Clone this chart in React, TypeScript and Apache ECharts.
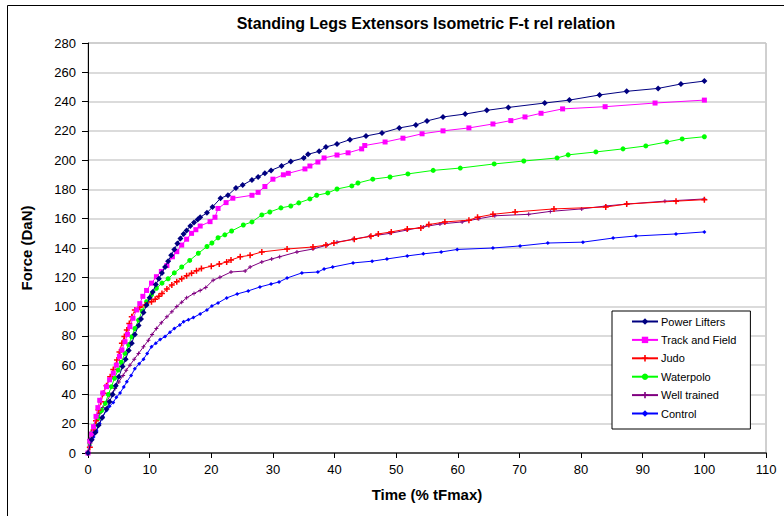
import React, { useEffect, useRef } from "react";
import * as echarts from "echarts";

const chartTitle = "Standing Legs Extensors Isometric F-t rel relation";
const xAxisTitle = "Time (% tFmax)";
const yAxisTitle = "Force (DaN)";
const seriesNames = ["Power Lifters", "Track and Field", "Judo", "Waterpolo", "Well trained", "Control"];
const seriesColors = ["#000080", "#FF00FF", "#FF0000", "#00FF00", "#800080", "#0000FF"];

const powerLifters = [
  [0, 0], [0.6, 9], [1.2, 14], [1.7, 19], [2.3, 24], [3, 30], [3.5, 35], [4, 40], [4.5, 46], [5, 52],
  [5.6, 59], [6.1, 64], [6.6, 70], [7.1, 75], [7.6, 81], [8.2, 87], [8.6, 91.5], [9, 96], [9.5, 101],
  [10, 106], [10.5, 110], [11, 115], [11.5, 119], [12, 123], [12.5, 127], [13, 131], [13.5, 135],
  [14, 139], [14.5, 143], [15, 146.5], [15.5, 149.5], [16, 152], [16.6, 155], [17.2, 157.5],
  [17.8, 159.5], [18.2, 161], [19.3, 164], [20.2, 168], [21.5, 174], [22.7, 176], [24, 181],
  [25.1, 183], [26.6, 186.5], [27.6, 188.5], [28.7, 191], [29.7, 193], [31.4, 196], [32.9, 199],
  [35, 201.5], [35.7, 204], [37.5, 206], [38.6, 209], [40.4, 211], [42.5, 214], [45.1, 216.5],
  [47.7, 218.6], [50.5, 222], [53.2, 224], [55, 226.8], [57.6, 229.5], [61.2, 231.5], [64.7, 234],
  [68.2, 236], [74.1, 239], [78.1, 241], [83, 244.5], [87.4, 247], [92.5, 249], [96.2, 252], [100, 254]
];

const trackAndField = [
  [0, 0], [0.3, 8], [0.6, 13], [0.9, 18], [1.3, 25], [1.6, 31], [1.9, 36], [2.4, 41], [3, 45.3],
  [3.5, 50], [4.1, 54.5], [4.6, 60], [5.1, 66], [5.5, 70.4], [6, 76], [6.4, 81], [6.8, 86.3], [7.3, 92],
  [7.9, 97.7], [8.4, 102], [8.9, 107], [9.5, 111], [10.3, 116], [11.1, 120.4], [11.9, 124], [12.8, 128],
  [13.7, 134], [14.4, 137.5], [15.2, 142], [16, 146], [16.8, 150], [17.5, 152.5], [18.2, 155],
  [19.8, 158], [20.6, 161], [21.1, 167], [22.4, 171], [23.5, 174], [26.6, 176], [27.6, 178],
  [28.7, 182], [30, 187], [31.7, 190], [32.5, 191], [35.2, 194], [36, 196], [37.3, 198.7],
  [38.3, 201.5], [40.4, 203.5], [42.2, 205], [44.4, 207.7], [44.9, 210], [48.2, 212.4], [51.1, 215],
  [54.2, 218], [57.6, 220], [61.8, 222], [65.7, 224.7], [68.6, 227], [70.9, 229.5], [73.5, 232],
  [77, 235], [83.9, 236.5], [92, 239], [100, 241]
];

const judo = [
  [0, 0], [0.3, 4], [0.9, 15.7], [1.3, 22], [1.7, 29.4], [2.1, 35], [2.5, 40.8], [3, 46], [3.6, 52],
  [4.1, 57], [4.7, 63.5], [5.1, 69], [5.5, 75], [5.9, 79.5], [6.3, 84], [6.7, 88.5], [7.1, 93],
  [7.6, 97.7], [8.4, 99.5], [9.3, 101], [10.3, 103.3], [10.9, 105], [11.5, 107], [12, 109],
  [12.8, 112], [13.6, 114.8], [14.4, 117], [15.2, 119], [16, 121], [16.8, 122.7], [17.6, 124.5],
  [18.4, 126], [20, 127.5], [21.3, 129], [22.5, 130.5], [23.2, 131.8], [24.7, 134], [26.3, 135],
  [28.2, 137.3], [32.3, 139.3], [36.5, 140.7], [38.6, 142], [39.9, 143.4], [43.2, 146], [45.9, 148],
  [47.1, 149.6], [49.2, 151], [51.8, 153], [54, 153.7], [55.3, 156], [57.9, 157.8], [61.8, 159],
  [63.2, 161], [65.7, 163], [69.3, 164.6], [75.6, 166.7], [84, 168], [87.4, 170], [95.4, 172], [100, 173]
];

const waterpolo = [
  [0, 0], [0.3, 7], [0.6, 13.4], [1.2, 19], [1.7, 23.7], [2.2, 29], [2.8, 33.9], [3.3, 40], [3.8, 45.3],
  [4.3, 51], [4.9, 56.7], [5.4, 62], [6, 68], [6.6, 74], [7.1, 79.4], [7.6, 85], [8.2, 90.8], [8.8, 97],
  [9.5, 103.3], [10.3, 108], [11.1, 112.5], [12, 116], [13, 119], [14, 123], [15.2, 127], [16.5, 131.5],
  [17.9, 136.4], [19.3, 141], [20.1, 143.4], [21.1, 147], [22.2, 149], [23.3, 151.6], [25.2, 155.7],
  [26.6, 157.8], [28.2, 162.6], [29.5, 164.6], [31.3, 167.4], [32.9, 168.7], [34.2, 170.8], [36, 173.5],
  [37.1, 176], [38.9, 177.6], [40.4, 180.3], [42.8, 182.4], [43.8, 184.4], [46.2, 187], [49, 188.5],
  [51.9, 190.6], [56, 193], [60.4, 194.6], [65.9, 197.4], [70.7, 199.4], [76.1, 201.5], [77.9, 203.6],
  [82.4, 205.6], [86.8, 207.7], [90.5, 209.7], [93.9, 212.4], [96.4, 214.5], [100, 216]
];

const wellTrained = [
  [0, 0], [0.2, 9], [0.5, 14], [0.9, 18], [1.4, 23], [1.9, 27], [2.4, 31], [3, 35], [3.7, 40],
  [4.4, 44], [5, 48.5], [5.7, 53], [6.2, 56.5], [6.8, 60], [7.5, 64], [8.2, 68], [9, 72.5], [9.8, 77],
  [10.4, 81], [11.1, 85], [11.9, 89], [12.8, 93], [13.6, 96.5], [14.4, 100], [15.2, 103], [16, 106],
  [17.2, 109], [18.2, 111], [19.1, 113], [20.3, 118], [21.4, 120], [23.2, 123.6], [25.5, 124.3],
  [26.3, 127], [28.2, 130.5], [29.8, 132.5], [31.1, 134], [33.9, 137.3], [36.5, 139.3], [38.8, 142],
  [40.4, 144], [43, 146], [45.7, 148], [49, 150], [51.8, 152.3], [54.4, 154.4], [57.1, 156.4],
  [60.7, 157.8], [63.4, 160], [66, 162], [71.5, 163], [75, 165], [80.1, 166.7], [84, 168.7],
  [87.4, 170], [93.6, 172], [100, 173.5]
];

const control = [
  [0, 0], [0.3, 5], [0.9, 11], [1.4, 15], [1.9, 20], [2.4, 25], [3, 29], [3.5, 32], [4.1, 34.5],
  [4.6, 38], [5.2, 41], [5.8, 45], [6.3, 48.7], [7, 53], [7.6, 57.5], [8.3, 61], [9, 64], [9.6, 68],
  [10.3, 72.6], [11, 75], [11.7, 77.5], [12.5, 79.5], [13.3, 82.5], [14, 85], [14.9, 87.4], [15.5, 89.7],
  [16.3, 91], [17.1, 92.5], [18.2, 95], [19.3, 97.7], [20.1, 100.4], [21.1, 102.5], [22.5, 105.9],
  [24.2, 108.6], [26, 110.7], [27.9, 113.4], [29.7, 115.4], [31, 116.8], [32.3, 119.5], [34.7, 123],
  [37.3, 123.6], [38.3, 125.7], [39.7, 127], [43, 129.8], [46.1, 131], [48.5, 132.5], [51.8, 134.6],
  [54.4, 136], [57.3, 137.3], [59.9, 139], [65.7, 140], [70.1, 141.4], [74.6, 143.4], [80.3, 144],
  [85.2, 146.8], [88.9, 148.2], [95.4, 149.6], [100, 151]
];

const seriesData = [powerLifters, trackAndField, judo, waterpolo, wellTrained, control];
const plusPath = "path://M3,0H5V3H8V5H5V8H3V5H0V3H3Z";
const seriesSymbols = ["diamond", "rect", plusPath, "circle", plusPath, "diamond"];
const seriesSymbolSizes = [6, 5, 6, 5, 4, 4];

const FONT = "'Liberation Sans', Arial, sans-serif";

export default function App() {
  const ref = useRef<HTMLDivElement>(null);
  useEffect(() => {
    if (!ref.current) return;
    const chart = echarts.init(ref.current, undefined, { renderer: "svg" });
    chart.setOption({
      animation: false,
      backgroundColor: "#ffffff",
      textStyle: { fontFamily: FONT },
      graphic: [
        {
          type: "rect",
          shape: { x: 7.5, y: 5.5, width: 900, height: 900 },
          style: { fill: "none", stroke: "#000000", lineWidth: 1 },
          silent: true,
          z: -1
        },
        {
          type: "text",
          x: 426,
          y: 23,
          style: {
            text: chartTitle,
            fontFamily: FONT,
            fontWeight: "bold",
            fontSize: 16,
            fill: "#000000",
            textAlign: "center",
            textVerticalAlign: "middle"
          }
        }
      ],
      grid: {
        left: 88,
        top: 43,
        right: 18,
        bottom: 63,
        show: true,
        borderColor: "#a0a0a0",
        borderWidth: 1,
        backgroundColor: "#ffffff"
      },
      legend: {
        orient: "vertical",
        left: 612,
        top: 311,
        width: 140,
        padding: [5, 14, 10, 19],
        itemGap: 7.4,
        itemWidth: 26,
        itemHeight: 8,
        borderColor: "#000000",
        borderWidth: 1,
        backgroundColor: "#ffffff",
        textStyle: { fontFamily: FONT, fontSize: 11, color: "#000000", padding: [0, 0, 0, -2] },
        data: seriesNames
      },
      xAxis: {
        type: "value",
        min: 0,
        max: 110,
        interval: 10,
        name: xAxisTitle,
        nameLocation: "middle",
        nameGap: 34,
        nameTextStyle: { fontFamily: FONT, fontWeight: "bold", fontSize: 15, color: "#000000" },
        axisLine: { show: true, onZero: false, lineStyle: { color: "#555555", width: 2 } },
        axisTick: { show: true, inside: false, length: 5, lineStyle: { color: "#000000" } },
        axisLabel: { fontFamily: FONT, fontSize: 13, color: "#000000", margin: 10 },
        splitLine: { show: false }
      },
      yAxis: {
        type: "value",
        min: 0,
        max: 280,
        interval: 20,
        name: yAxisTitle,
        nameLocation: "middle",
        nameGap: 54,
        nameRotate: 90,
        nameTextStyle: { fontFamily: FONT, fontWeight: "bold", fontSize: 15, color: "#000000" },
        axisLine: { show: true, lineStyle: { color: "#000000", width: 1 } },
        axisTick: { show: true, inside: false, length: 6, lineStyle: { color: "#000000" } },
        axisLabel: { fontFamily: FONT, fontSize: 13, color: "#000000", margin: 12 },
        splitLine: { show: true, lineStyle: { color: "#cfcfcf", width: 1.5 } }
      },
      series: seriesNames.map((name, i) => ({
        name,
        type: "line",
        data: seriesData[i],
        symbol: seriesSymbols[i],
        symbolSize: seriesSymbolSizes[i],
        showSymbol: true,
        showAllSymbol: true,
        color: seriesColors[i],
        lineStyle: { color: seriesColors[i], width: 1 },
        itemStyle: { color: seriesColors[i], borderWidth: 0 },
        z: 10 - i
      }))
    });
    return () => chart.dispose();
  }, []);
  return (
    <div
      ref={ref}
      style={{ position: "fixed", left: 0, top: 0, width: 784, height: 516, background: "#ffffff" }}
    />
  );
}
